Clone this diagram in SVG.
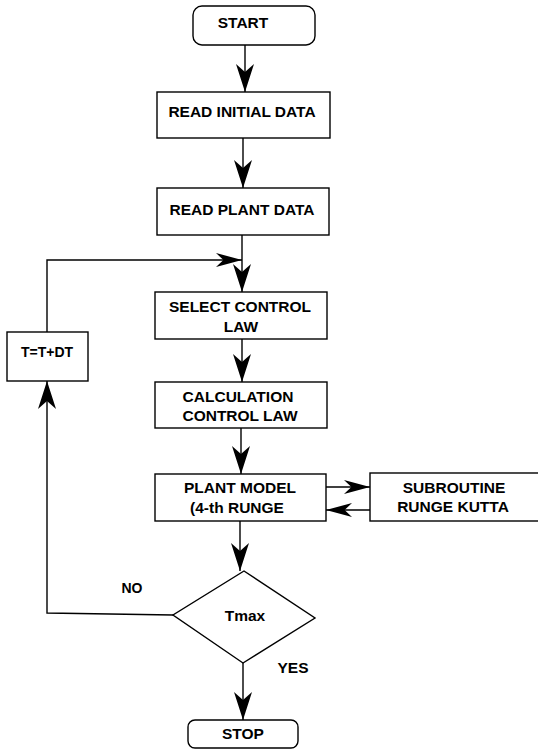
<svg xmlns="http://www.w3.org/2000/svg" width="538" height="751" viewBox="0 0 538 751">
<style>
.box{fill:#fff;stroke:#000;stroke-width:1.4}
.ln{fill:none;stroke:#000;stroke-width:1.4}
.t{font-family:"Liberation Sans",Arial,sans-serif;font-weight:bold;font-size:15.5px;fill:#000;text-anchor:middle}
.s{font-size:14px}
</style>
<defs>
<marker id="ah" viewBox="0 0 28 18" refX="28" refY="9" markerWidth="28" markerHeight="18" markerUnits="userSpaceOnUse" orient="auto">
<path d="M0,0 L28,9 L0,18 L8,9 Z" fill="#000"/>
</marker>
<marker id="ahs" viewBox="0 0 28 18" refX="28" refY="9" markerWidth="26" markerHeight="14" markerUnits="userSpaceOnUse" orient="auto" preserveAspectRatio="none">
<path d="M0,0 L28,9 L0,18 L8,9 Z" fill="#000"/>
</marker>
</defs>
<rect width="538" height="751" fill="#fff"/>
<g id="connectors">
<path class="ln" d="M245,45 V92" marker-end="url(#ah)"/>
<path class="ln" d="M243,138 V188" marker-end="url(#ah)"/>
<path class="ln" d="M242,235 V292" marker-end="url(#ah)"/>
<path class="ln" d="M47,332 V260 H242" marker-end="url(#ahs)"/>
<path class="ln" d="M242,339 V382" marker-end="url(#ah)"/>
<path class="ln" d="M241,428 V474" marker-end="url(#ah)"/>
<path class="ln" d="M326,487 H370" marker-end="url(#ahs)"/>
<path class="ln" d="M370,510 H326" marker-end="url(#ahs)"/>
<path class="ln" d="M240,521 V571" marker-end="url(#ah)"/>
<path class="ln" d="M173,615 L47,613 V381" marker-end="url(#ah)"/>
<path class="ln" d="M243,663 V720" marker-end="url(#ah)"/>
</g>
<g id="start">
<rect class="box" x="193" y="6" width="122" height="39" rx="9"/>
<text class="t" x="243" y="28">START</text>
</g>
<g id="read-initial">
<rect class="box" x="157" y="92" width="173" height="46"/>
<text class="t" x="242" y="117">READ INITIAL DATA</text>
</g>
<g id="read-plant">
<rect class="box" x="157" y="188" width="172" height="47"/>
<text class="t" x="242" y="215">READ PLANT DATA</text>
</g>
<g id="select">
<rect class="box" x="155" y="292" width="172" height="47"/>
<text class="t" x="240" y="312">SELECT CONTROL</text>
<text class="t" x="241" y="332">LAW</text>
</g>
<g id="calc">
<rect class="box" x="155" y="382" width="172" height="46"/>
<text class="t" x="238" y="402">CALCULATION</text>
<text class="t" x="240" y="421">CONTROL LAW</text>
</g>
<g id="plant">
<rect class="box" x="155" y="474" width="171" height="47"/>
<text class="t" x="240" y="493">PLANT MODEL</text>
<text class="t" x="237" y="513">(4-th RUNGE</text>
</g>
<g id="subroutine">
<rect class="box" x="370" y="473" width="180" height="48"/>
<text class="t" x="454" y="493">SUBROUTINE</text>
<text class="t" x="453" y="512">RUNGE KUTTA</text>
</g>
<g id="increment">
<rect class="box" x="7" y="332" width="81" height="49"/>
<text class="t s" x="47" y="357">T=T+DT</text>
</g>
<g id="decision">
<polygon class="box" points="244,571 315,618 243,663 173,615"/>
<text class="t" x="245" y="621">Tmax</text>
</g>
<g id="labels">
<text class="t s" x="132" y="593">NO</text>
<text class="t" x="293" y="673">YES</text>
</g>
<g id="stop">
<rect class="box" x="188" y="720" width="110" height="28" rx="7"/>
<text class="t" x="243" y="739">STOP</text>
</g>
</svg>
